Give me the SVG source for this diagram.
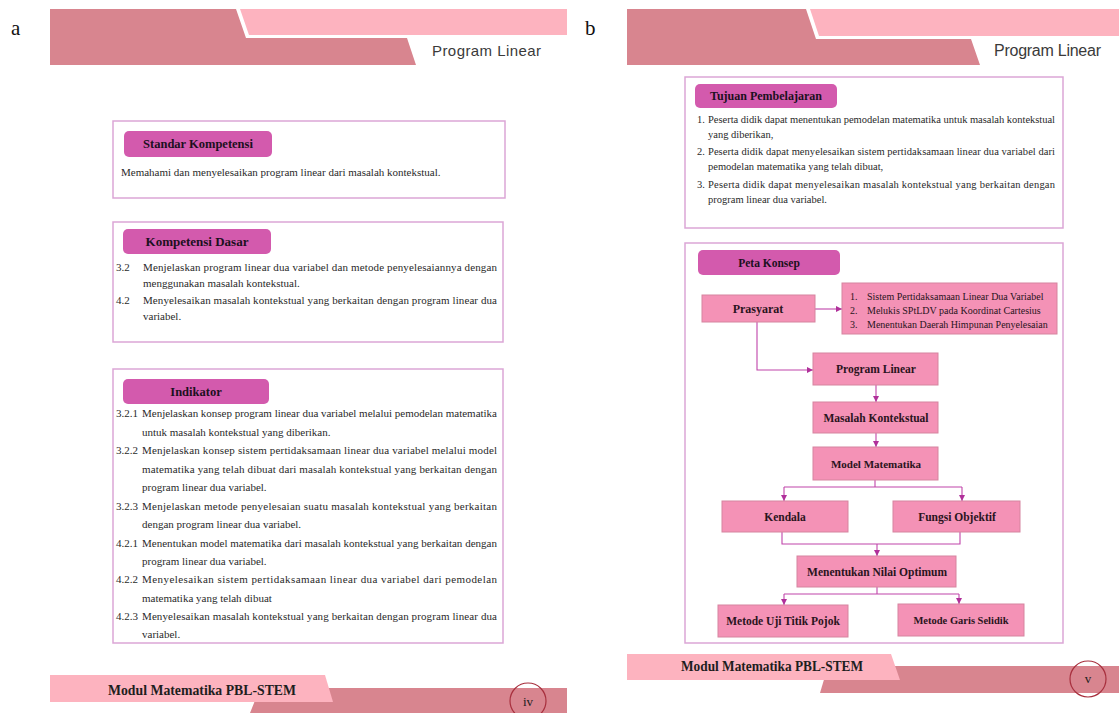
<svg xmlns="http://www.w3.org/2000/svg" width="1119" height="713" viewBox="0 0 1119 713">
<defs>
<style>
.dark{fill:#d8858f}
.light{fill:#fdb3bf}
.hdr{font-family:"Liberation Sans",Arial,sans-serif;font-size:15px;fill:#3a3a3a}
.ftr{font-family:"Liberation Serif","Times New Roman",serif;font-size:14px;font-weight:bold;fill:#1e1e1e}
.pg{font-family:"Liberation Serif","Times New Roman",serif;font-size:13px;fill:#1e1e1e}
.pgc{fill:none;stroke:#a8303e;stroke-width:1.2}
.cont{fill:#ffffff;stroke:#dba6d6;stroke-width:1.5}
.lab{fill:#d35aad}
.labt{font-family:"Liberation Serif","Times New Roman",serif;font-size:12.5px;font-weight:bold;fill:#1c1020;text-anchor:middle}
.body{font-family:"Liberation Serif","Times New Roman",serif;font-size:11px;fill:#2a2a2a}
.bodys{font-family:"Liberation Serif","Times New Roman",serif;font-size:10.5px;fill:#2a2a2a}
.node{fill:#f492b6;stroke:#d6849f;stroke-width:1}
.nt{font-family:"Liberation Serif","Times New Roman",serif;font-size:11.5px;font-weight:bold;fill:#2a1420;text-anchor:middle}
.lt{font-family:"Liberation Serif","Times New Roman",serif;font-size:10px;fill:#2a1420}
.big{font-family:"Liberation Serif","Times New Roman",serif;font-size:21px;fill:#111}
.con{fill:none;stroke:#c044aa;stroke-width:1.1}
</style>
<marker id="ah" viewBox="0 0 6 6" refX="6" refY="3" markerWidth="6" markerHeight="6" orient="auto" markerUnits="userSpaceOnUse">
<path d="M0,0 L6,3 L0,6 z" fill="#b0309a"/>
</marker>
</defs>
<rect width="1119" height="713" fill="#ffffff"/>

<!-- panel letters -->
<text class="big" x="11" y="35">a</text>
<text class="big" x="585" y="35">b</text>

<!-- LEFT PAGE header -->
<g id="left-header">
<polygon class="dark" points="50,9 236,9 246,38 407,38 416,65 50,65"/>
<polygon class="light" points="240,9 567,9 567,35 249,35"/>
<text class="hdr" x="432" y="56" textLength="109" lengthAdjust="spacing">Program Linear</text>
</g>

<!-- Standar Kompetensi -->
<g id="standar-kompetensi">
<rect class="cont" x="113" y="121" width="392" height="77"/>
<rect class="lab" x="124" y="131" width="148" height="26" rx="5"/>
<text class="labt" x="198" y="148">Standar Kompetensi</text>
<text class="body" x="121" y="176">Memahami dan menyelesaikan program linear dari masalah kontekstual.</text>
</g>

<!-- Kompetensi Dasar -->
<g id="kompetensi-dasar">
<rect class="cont" x="113" y="222" width="390" height="120"/>
<rect class="lab" x="123" y="229" width="148" height="25" rx="5"/>
<text class="labt" x="197" y="246" style="font-size:13px">Kompetensi Dasar</text>
<text class="body" x="116" y="271">3.2</text>
<text class="body" x="143" y="271" textLength="354" lengthAdjust="spacing">Menjelaskan program linear dua variabel dan metode penyelesaiannya dengan</text>
<text class="body" x="143" y="287">menggunakan masalah kontekstual.</text>
<text class="body" x="116" y="304">4.2</text>
<text class="body" x="143" y="304" textLength="354" lengthAdjust="spacing">Menyelesaikan masalah kontekstual yang berkaitan dengan program linear dua</text>
<text class="body" x="143" y="320">variabel.</text>
</g>

<!-- Indikator -->
<g id="indikator">
<rect class="cont" x="113" y="369" width="390" height="274"/>
<rect class="lab" x="123" y="379" width="146" height="25" rx="5"/>
<text class="labt" x="196" y="396">Indikator</text>
<text class="body" x="116" y="417">3.2.1</text>
<text class="body" x="142" y="417" textLength="355" lengthAdjust="spacing">Menjelaskan konsep program linear dua variabel melalui pemodelan matematika</text>
<text class="body" x="142" y="436">untuk masalah kontekstual yang diberikan.</text>
<text class="body" x="116" y="454">3.2.2</text>
<text class="body" x="142" y="454" textLength="355" lengthAdjust="spacing">Menjelaskan konsep sistem pertidaksamaan linear dua variabel melalui model</text>
<text class="body" x="142" y="473" textLength="355" lengthAdjust="spacing">matematika yang telah dibuat dari masalah kontekstual yang berkaitan dengan</text>
<text class="body" x="142" y="491">program linear dua variabel.</text>
<text class="body" x="116" y="510">3.2.3</text>
<text class="body" x="142" y="510" textLength="355" lengthAdjust="spacing">Menjelaskan metode penyelesaian suatu masalah kontekstual yang berkaitan</text>
<text class="body" x="142" y="528">dengan program linear dua variabel.</text>
<text class="body" x="116" y="547">4.2.1</text>
<text class="body" x="142" y="547" textLength="355" lengthAdjust="spacing">Menentukan model matematika dari masalah kontekstual yang berkaitan dengan</text>
<text class="body" x="142" y="565">program linear dua variabel.</text>
<text class="body" x="116" y="583">4.2.2</text>
<text class="body" x="142" y="583" textLength="355" lengthAdjust="spacing">Menyelesaikan sistem pertidaksamaan linear dua variabel dari pemodelan</text>
<text class="body" x="142" y="602">matematika yang telah dibuat</text>
<text class="body" x="116" y="620">4.2.3</text>
<text class="body" x="142" y="620" textLength="355" lengthAdjust="spacing">Menyelesaikan masalah kontekstual yang berkaitan dengan program linear dua</text>
<text class="body" x="142" y="638">variabel.</text>
</g>

<!-- LEFT footer -->
<g id="left-footer">
<polygon class="dark" points="260,688 567,688 567,713 250,713"/>
<polygon class="light" points="50,675 325,675 333,702 50,702"/>
<text class="ftr" x="108" y="695" textLength="188" lengthAdjust="spacingAndGlyphs">Modul Matematika PBL-STEM</text>
<circle class="pgc" cx="528" cy="701" r="18"/>
<text class="pg" x="528" y="706" text-anchor="middle">iv</text>
</g>

<!-- RIGHT PAGE header -->
<g id="right-header">
<polygon class="dark" points="627,9 806,9 816,39 971,39 980,65 627,65"/>
<polygon class="light" points="810,9 1119,9 1119,36 819,36"/>
<text class="hdr" x="994" y="56" style="font-size:16px" textLength="107" lengthAdjust="spacing">Program Linear</text>
</g>

<!-- Tujuan Pembelajaran -->
<g id="tujuan-pembelajaran">
<rect class="cont" x="685" y="77" width="378" height="151"/>
<rect class="lab" x="695" y="84" width="142" height="24" rx="5"/>
<text class="labt" x="766" y="100" style="font-size:12px">Tujuan Pembelajaran</text>
<text class="bodys" x="697" y="123">1.</text>
<text class="bodys" x="708" y="123" textLength="347" lengthAdjust="spacing">Peserta didik dapat menentukan pemodelan matematika untuk masalah kontekstual</text>
<text class="bodys" x="708" y="138">yang diberikan,</text>
<text class="bodys" x="697" y="155">2.</text>
<text class="bodys" x="708" y="155" textLength="347" lengthAdjust="spacing">Peserta didik dapat menyelesaikan sistem pertidaksamaan linear dua variabel dari</text>
<text class="bodys" x="708" y="170">pemodelan matematika yang telah dibuat,</text>
<text class="bodys" x="697" y="188">3.</text>
<text class="bodys" x="708" y="188" textLength="347" lengthAdjust="spacing">Peserta didik dapat menyelesaikan masalah kontekstual yang berkaitan dengan</text>
<text class="bodys" x="708" y="203">program linear dua variabel.</text>
</g>

<!-- Peta Konsep container -->
<g id="peta-konsep">
<rect class="cont" x="685" y="243" width="378" height="400"/>
<rect class="lab" x="698" y="250" width="142" height="25" rx="5"/>
<text class="labt" x="769" y="267" style="font-size:11.5px">Peta Konsep</text>
</g>

<!-- connectors -->
<g id="connectors">
<path class="con" d="M815,309 H842" marker-end="url(#ah)"/>
<path class="con" d="M757,322 V370 H813" marker-end="url(#ah)"/>
<path class="con" d="M876,385 V402" marker-end="url(#ah)"/>
<path class="con" d="M876,433 V447" marker-end="url(#ah)"/>
<path class="con" d="M875,480 V487"/>
<path class="con" d="M784,487 H962"/>
<path class="con" d="M784,487 V501" marker-end="url(#ah)"/>
<path class="con" d="M962,487 V501" marker-end="url(#ah)"/>
<path class="con" d="M782,532 V544 H960 V532"/>
<path class="con" d="M877,544 V556" marker-end="url(#ah)"/>
<path class="con" d="M877,587 V594"/>
<path class="con" d="M784,594 H959"/>
<path class="con" d="M784,594 V605" marker-end="url(#ah)"/>
<path class="con" d="M959,594 V604" marker-end="url(#ah)"/>
</g>

<g id="node-prasyarat">
<rect class="node" x="702" y="295" width="113" height="27"/>
<text class="nt" x="758" y="313" style="font-size:12px">Prasyarat</text>
</g>
<g id="node-prasyarat-list">
<rect class="node" x="842" y="283" width="215" height="51"/>
<text class="lt" x="850" y="300">1.</text>
<text class="lt" x="867" y="300">Sistem Pertidaksamaan Linear Dua Variabel</text>
<text class="lt" x="850" y="314">2.</text>
<text class="lt" x="867" y="314">Melukis SPtLDV pada Koordinat Cartesius</text>
<text class="lt" x="850" y="328">3.</text>
<text class="lt" x="867" y="328">Menentukan Daerah Himpunan Penyelesaian</text>
</g>
<g id="node-program-linear">
<rect class="node" x="813" y="353" width="125" height="32"/>
<text class="nt" x="876" y="373">Program Linear</text>
</g>
<g id="node-masalah-kontekstual">
<rect class="node" x="813" y="402" width="125" height="31"/>
<text class="nt" x="876" y="422">Masalah Kontekstual</text>
</g>
<g id="node-model-matematika">
<rect class="node" x="813" y="447" width="125" height="33"/>
<text class="nt" x="876" y="468" style="font-size:11px">Model Matematika</text>
</g>
<g id="node-kendala">
<rect class="node" x="722" y="501" width="126" height="31"/>
<text class="nt" x="785" y="521">Kendala</text>
</g>
<g id="node-fungsi-objektif">
<rect class="node" x="893" y="501" width="127" height="31"/>
<text class="nt" x="957" y="521">Fungsi Objektif</text>
</g>
<g id="node-nilai-optimum">
<rect class="node" x="797" y="556" width="159" height="31"/>
<text class="nt" x="877" y="576">Menentukan Nilai Optimum</text>
</g>
<g id="node-uji-titik-pojok">
<rect class="node" x="718" y="605" width="130" height="32"/>
<text class="nt" x="783" y="625">Metode Uji Titik Pojok</text>
</g>
<g id="node-garis-selidik">
<rect class="node" x="898" y="604" width="126" height="32"/>
<text class="nt" x="961" y="624" style="font-size:10.5px">Metode Garis Selidik</text>
</g>

<!-- RIGHT footer -->
<g id="right-footer">
<polygon class="dark" points="828,666 1119,666 1119,693 820,693"/>
<polygon class="light" points="627,654 891,654 900,680 627,680"/>
<text class="ftr" x="681" y="671" textLength="182" lengthAdjust="spacingAndGlyphs">Modul Matematika PBL-STEM</text>
<circle class="pgc" cx="1088" cy="679" r="18"/>
<text class="pg" x="1088" y="683" text-anchor="middle">v</text>
</g>
</svg>
